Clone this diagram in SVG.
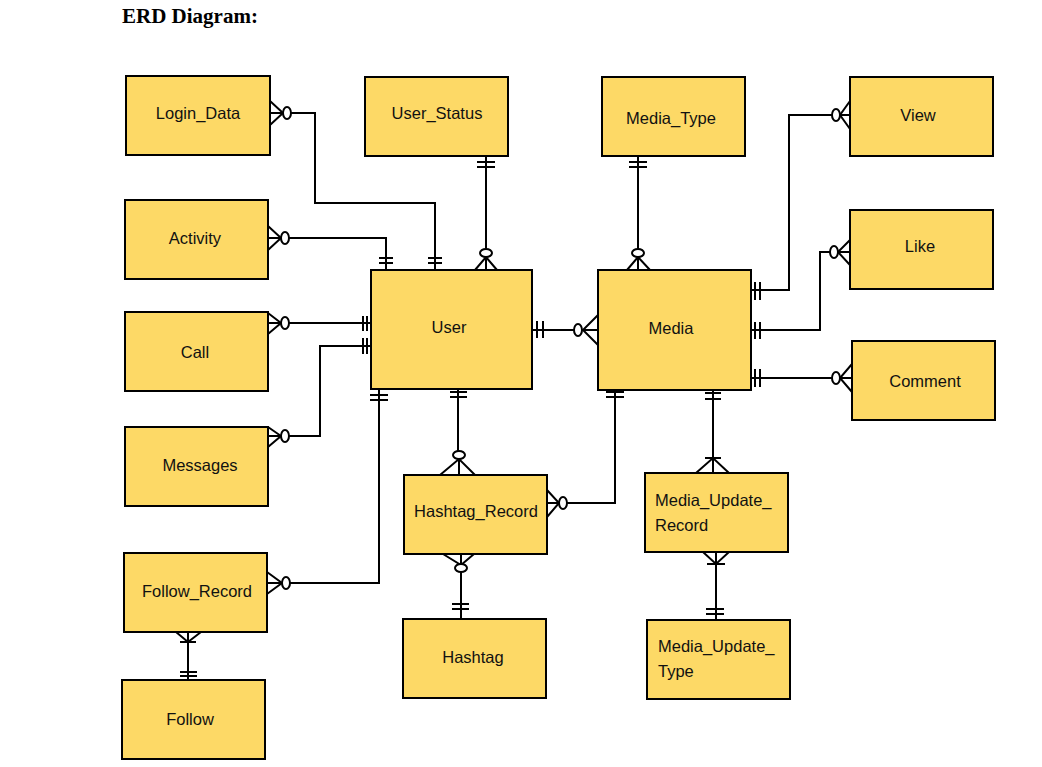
<svg xmlns="http://www.w3.org/2000/svg" width="1042" height="767" viewBox="0 0 1042 767">
<style>
.box{fill:#FDD966;stroke:#000;stroke-width:2}
.lbl{font-family:"Liberation Sans",Arial,sans-serif;font-size:16.5px;fill:#111;text-anchor:middle}
.lbl2{font-family:"Liberation Sans",Arial,sans-serif;font-size:16.5px;fill:#111}
.c{fill:none;stroke:#000;stroke-width:2}
.o{fill:#fff;stroke:#000;stroke-width:2}
</style>
<rect width="1042" height="767" fill="#fff"/>
<text x="122" y="23" font-family="Liberation Serif,Times New Roman,serif" font-weight="bold" font-size="21" fill="#000">ERD Diagram:</text>

<g id="connectors">
<!-- Login_Data - User -->
<path class="c" d="M270,101 L283,113 L270,125 M270,113 H283 M291,113 H315 V203 H435 V270 M428,258 H442 M428,263 H442"/>
<ellipse class="o" cx="287" cy="113" rx="4" ry="6"/>
<!-- Activity - User -->
<path class="c" d="M268,226 L281,238 L268,250 M268,238 H281 M289,238 H386 V270 M379,258 H393 M379,263 H393"/>
<ellipse class="o" cx="285" cy="238" rx="4" ry="6"/>
<!-- User_Status - User -->
<path class="c" d="M486,156 V249 M477,162 H495 M477,167 H495 M475,270 L486,257 L497,270 M486,257 V270"/>
<ellipse class="o" cx="486" cy="253" rx="6" ry="4"/>
<!-- Media_Type - Media -->
<path class="c" d="M638,156 V249 M629,162 H647 M629,167 H647 M627,270 L638,257 L650,270 M638,257 V270"/>
<ellipse class="o" cx="638" cy="253" rx="6" ry="4"/>
<!-- User - Media -->
<path class="c" d="M532,330 H574 M537,321 V338 M543,321 V338 M598,315 L583,330 L598,345 M583,330 H598"/>
<ellipse class="o" cx="578" cy="330" rx="4" ry="6"/>
<!-- Call - User -->
<path class="c" d="M268,313 L281,323 L268,334 M268,323 H281 M289,323 H371 M363,316 V331 M367,316 V331"/>
<ellipse class="o" cx="285" cy="323" rx="4" ry="6"/>
<!-- Messages - User -->
<path class="c" d="M268,427 L281,436 L268,447 M268,436 H281 M289,436 H320 V346 H371 M363,338 V354 M367,338 V354"/>
<ellipse class="o" cx="285" cy="436" rx="4" ry="6"/>
<!-- Follow_Record - User -->
<path class="c" d="M379,389 V583 H290 M370,395 H388 M370,400 H388 M267,572 L282,583 L267,594 M267,583 H282"/>
<ellipse class="o" cx="286" cy="583" rx="4" ry="6"/>
<!-- Follow_Record - Follow -->
<path class="c" d="M176,632 L188,642 L201,632 M188,632 V680 M180,642 H196 M180,672 H197 M180,676 H197"/>
<!-- User - Hashtag_Record -->
<path class="c" d="M458,389 V451 M450,392 H467 M450,397 H467 M440,475 L459,459 L475,475 M459,459 V475"/>
<ellipse class="o" cx="459" cy="455" rx="6" ry="4"/>
<!-- Media - Hashtag_Record -->
<path class="c" d="M615,390 V503 H567 M606,392 H624 M606,397 H624 M547,490 L559,503 L547,517 M547,503 H559"/>
<ellipse class="o" cx="563" cy="503" rx="4" ry="6"/>
<!-- Hashtag_Record - Hashtag -->
<path class="c" d="M443,554 L461,565 L474,554 M461,554 V565 M461,572 V619 M452,604 H469 M452,609 H469"/>
<ellipse class="o" cx="461" cy="568" rx="6" ry="4"/>
<!-- Media - Media_Update_Record -->
<path class="c" d="M713,390 V473 M705,393 H721 M705,399 H721 M705,458 H721 M696,473 L713,458 L729,473"/>
<!-- Media_Update_Record - Media_Update_Type -->
<path class="c" d="M716,552 V620 M703,552 L716,564 L729,552 M707,564 H725 M706,609 H724 M706,614 H724"/>
<!-- Media - View -->
<path class="c" d="M751,290 H789 V115 H832 M755,282 V300 M760,282 V300 M850,101 L840,115 L850,129 M840,115 H850"/>
<ellipse class="o" cx="836" cy="115" rx="4" ry="6"/>
<!-- Media - Like -->
<path class="c" d="M751,330 H820 V252 H830 M755,322 V339 M760,322 V339 M850,240 L838,252 L850,265 M838,252 H850"/>
<ellipse class="o" cx="834" cy="252" rx="4" ry="6"/>
<!-- Media - Comment -->
<path class="c" d="M751,378 H832 M755,369 V387 M760,369 V387 M852,364 L840,378 L852,392 M840,378 H852"/>
<ellipse class="o" cx="836" cy="378" rx="4" ry="6"/>
</g>

<g id="Login_Data"><rect class="box" x="126" y="76" width="144" height="79"/><text class="lbl" x="198" y="119">Login_Data</text></g>
<g id="User_Status"><rect class="box" x="365" y="77" width="143" height="79"/><text class="lbl" x="437" y="119">User_Status</text></g>
<g id="Media_Type"><rect class="box" x="602" y="77" width="143" height="79"/><text class="lbl" x="671" y="124">Media_Type</text></g>
<g id="View"><rect class="box" x="850" y="77" width="143" height="79"/><text class="lbl" x="918" y="121">View</text></g>
<g id="Activity"><rect class="box" x="125" y="200" width="143" height="79"/><text class="lbl" x="195" y="244">Activity</text></g>
<g id="Like"><rect class="box" x="850" y="210" width="143" height="79"/><text class="lbl" x="920" y="252">Like</text></g>
<g id="User"><rect class="box" x="371" y="270" width="161" height="119"/><text class="lbl" x="449" y="333">User</text></g>
<g id="Media"><rect class="box" x="598" y="270" width="153" height="120"/><text class="lbl" x="671" y="334">Media</text></g>
<g id="Call"><rect class="box" x="125" y="312" width="143" height="79"/><text class="lbl" x="195" y="358">Call</text></g>
<g id="Comment"><rect class="box" x="852" y="341" width="143" height="79"/><text class="lbl" x="925" y="387">Comment</text></g>
<g id="Messages"><rect class="box" x="125" y="427" width="143" height="79"/><text class="lbl" x="200" y="471">Messages</text></g>
<g id="Hashtag_Record"><rect class="box" x="404" y="475" width="143" height="79"/><text class="lbl" x="476" y="517">Hashtag_Record</text></g>
<g id="Media_Update_Record"><rect class="box" x="645" y="473" width="143" height="79"/><text class="lbl2" x="655" y="506">Media_Update_</text><text class="lbl2" x="655" y="531">Record</text></g>
<g id="Follow_Record"><rect class="box" x="124" y="553" width="143" height="79"/><text class="lbl" x="197" y="597">Follow_Record</text></g>
<g id="Hashtag"><rect class="box" x="403" y="619" width="143" height="79"/><text class="lbl" x="473" y="663">Hashtag</text></g>
<g id="Media_Update_Type"><rect class="box" x="647" y="620" width="143" height="79"/><text class="lbl2" x="658" y="652">Media_Update_</text><text class="lbl2" x="658" y="677">Type</text></g>
<g id="Follow"><rect class="box" x="122" y="680" width="143" height="79"/><text class="lbl" x="190" y="725">Follow</text></g>
</svg>
